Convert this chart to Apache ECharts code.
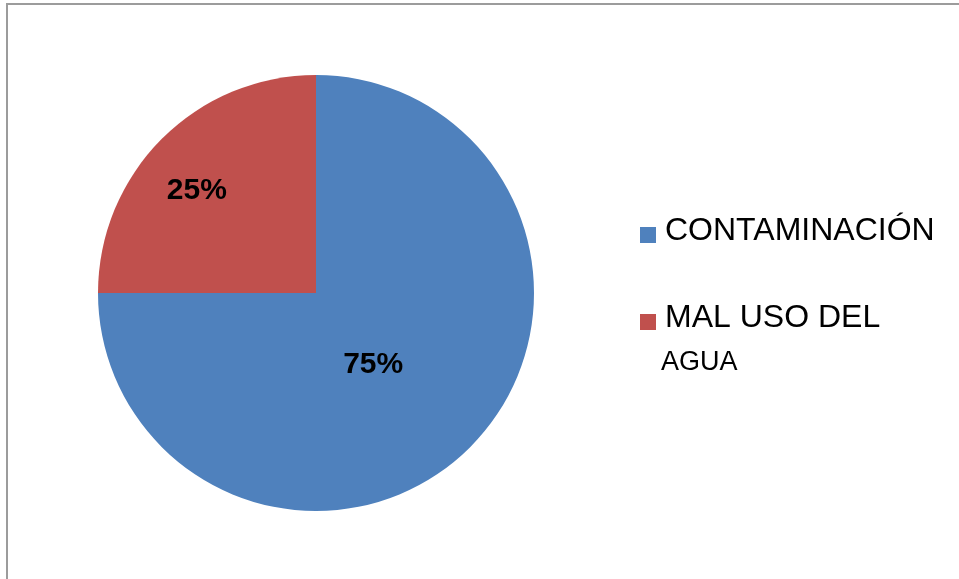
<!DOCTYPE html>
<html>
<head>
<meta charset="utf-8">
<script src="https://cdn.jsdelivr.net/npm/echarts@6/dist/echarts.min.js"></script>
<style>html,body{margin:0;padding:0;background:#fff}#c{width:959px;height:579px}</style>
</head>
<body>
<div id="c"></div>
<script>
const categories = ['CONTAMINACIÓN', 'MAL USO DEL AGUA'];
const values = [75, 25];
const colors = ['#4F81BD', '#C0504D'];
const labelOffsets = [[-22, -7], [-40, -23]];

const chart = echarts.init(document.getElementById('c'), null, {renderer: 'canvas'});
chart.setOption({
  animation: false,
  backgroundColor: '#ffffff',
  graphic: [{
    type: 'rect',
    shape: {x: 7, y: 4, width: 1000, height: 1000},
    style: {fill: 'none', stroke: '#9c9c9c', lineWidth: 2},
    silent: true
  }],
  legend: {
    orient: 'vertical',
    left: 640,
    top: 215,
    padding: 0,
    itemGap: 21,
    itemWidth: 16,
    itemHeight: 16,
    icon: 'rect',
    data: categories,
    formatter: function (name) {
      if (name === 'MAL USO DEL AGUA') {
        return '{c| }\n{a|MAL USO DEL}\n{b|AGUA}';
      }
      return '{a|' + name + '}';
    },
    textStyle: {
      rich: {
        a: {fontFamily: 'Liberation Sans, Arial', fontSize: 32, color: '#000', lineHeight: 44, padding: [0, 0, 8, 4]},
        b: {fontFamily: 'Liberation Sans, Arial', fontSize: 27, color: '#000', lineHeight: 38},
        c: {fontSize: 10, lineHeight: 38}
      }
    }
  },
  series: [{
    type: 'pie',
    center: [316, 293],
    radius: 218,
    startAngle: 90,
    clockwise: true,
    silent: true,
    itemStyle: {borderWidth: 0},
    label: {
      show: true,
      position: 'inside',
      formatter: '{c}%',
      fontFamily: 'Liberation Sans, Arial',
      fontWeight: 'bold',
      fontSize: 30,
      color: '#000'
    },
    labelLine: {show: false},
    data: categories.map((n, i) => ({
      name: n,
      value: values[i],
      itemStyle: {color: colors[i]},
      label: {offset: labelOffsets[i]}
    }))
  }]
});
</script>
</body>
</html>
